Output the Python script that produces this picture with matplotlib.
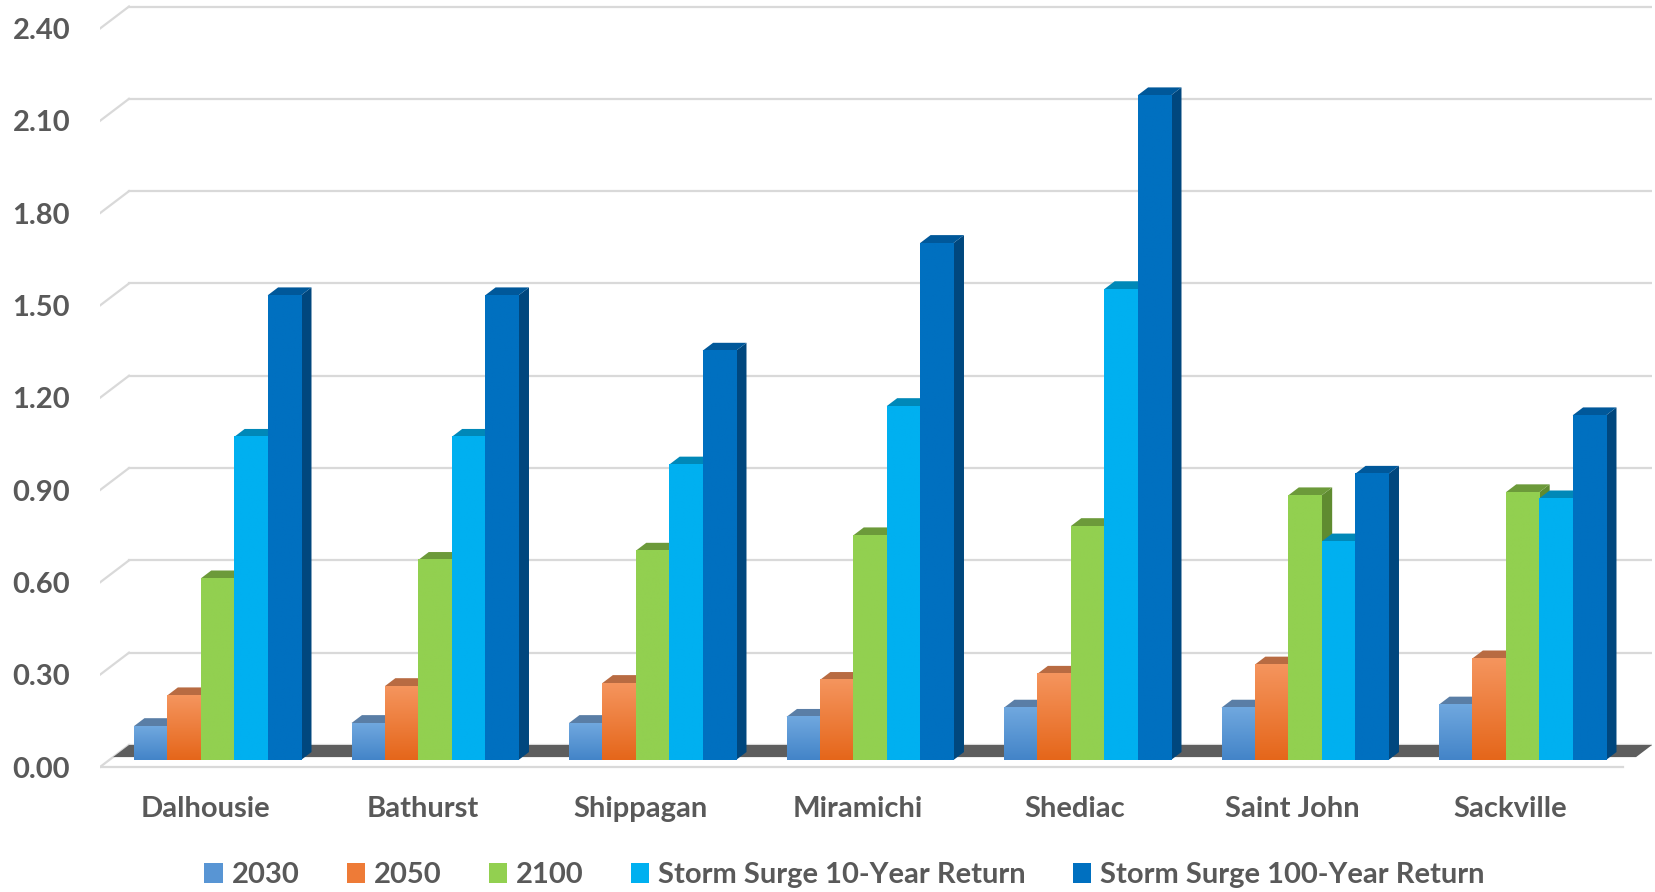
import numpy as np
import matplotlib
matplotlib.use("Agg")
import matplotlib.pyplot as plt
from matplotlib.patches import Polygon, Patch
from matplotlib.colors import LinearSegmentedColormap

# Projected sea level rise / storm surge (m) per community
sites = ["Dalhousie", "Bathurst", "Shippagan", "Miramichi", "Shediac", "Saint John", "Sackville"]
series_names = ["2030", "2050", "2100", "Storm Surge 10-Year Return", "Storm Surge 100-Year Return"]
rise_2030 = [0.11, 0.12, 0.12, 0.14, 0.17, 0.17, 0.18]
rise_2050 = [0.21, 0.24, 0.25, 0.26, 0.28, 0.31, 0.33]
rise_2100 = [0.59, 0.65, 0.68, 0.73, 0.76, 0.86, 0.87]
surge_10yr = [1.05, 1.05, 0.96, 1.15, 1.53, 0.71, 0.85]
surge_100yr = [1.51, 1.51, 1.33, 1.68, 2.16, 0.93, 1.12]
y_ticks = [0.0, 0.3, 0.6, 0.9, 1.2, 1.5, 1.8, 2.1, 2.4]

# (top colour, bottom colour, top face, side face)
styles = [
    ("#70A8DF", "#4384C8", "#5A7EA6", "#3F6C9C"),
    ("#F5955E", "#E5661A", "#B86B42", "#A85A2E"),
    ("#92D050", "#92D050", "#6C9A3A", "#5F8B30"),
    ("#00B0F0", "#00B0F0", "#0088B8", "#007FB0"),
    ("#0070C0", "#0070C0", "#00589A", "#00477E"),
]
legend_colors = ["#5895D4", "#EE7B37", "#92D050", "#00B0F0", "#0070C0"]
TEXT = "#595959"
GRID = "#D9D9D9"
FS = 21

plt.rcParams["font.family"] = ["Lato", "DejaVu Sans"]
plt.rcParams["font.weight"] = "bold"

# pixel geometry of the faux-3D box
W, H = 1656, 892
PX_CAT, PX_UNIT = 217.5, 307.7
X0_PX, Y0_PX = 205, 767          # category 0 / value 0 on the front plane
DX = 29 / PX_CAT                 # depth vector (front -> back wall)
DY = 22 / PX_UNIT
x_lo, x_hi = (100 - X0_PX) / PX_CAT, (1652 - X0_PX) / PX_CAT
y_lo, y_hi = -0.045, 2.49

fig = plt.figure(figsize=(W / 100, H / 100), dpi=100)
ax_bottom = (H - Y0_PX) + y_lo * PX_UNIT
ax = fig.add_axes([100 / W, ax_bottom / H, (1652 - 100) / W, (y_hi - y_lo) * PX_UNIT / H])

# back wall gridlines + left wall diagonals
for v in y_ticks:
    ax.plot([x_lo, x_lo + DX], [v, v + DY], color=GRID, lw=1.6, zorder=1)
    ax.plot([x_lo + DX, x_hi], [v + DY, v + DY], color=GRID, lw=1.6, zorder=1)
ax.plot([x_lo, x_hi - DX], [0, 0], color=GRID, lw=1.6, zorder=1)

# floor slab
t_floor = 0.45
floor = Polygon([(x_lo + t_floor * DX, t_floor * DY), (x_hi - DX + t_floor * DX, t_floor * DY),
                 (x_hi, DY), (x_lo + DX, DY)], closed=True, fc="#5E5E5E", ec="none", zorder=2)
ax.add_patch(floor)

# columns
t0, t1 = 0.32, 0.68
bw = 0.1536
shift = 0.0576
ddx, ddy = (t1 - t0) * DX, (t1 - t0) * DY
yb = t0 * DY
data = [rise_2030, rise_2050, rise_2100, surge_10yr, surge_100yr]
grad = np.linspace(0, 1, 256).reshape(-1, 1)

for i in range(len(sites)):
    for j, vals in enumerate(data):
        v = vals[i]
        c_top, c_bot, c_cap, c_side = styles[j]
        xl = i + shift + (j - 2.5) * bw
        xr = xl + bw
        side = Polygon([(xr, yb), (xr, yb + v), (xr + ddx, yb + v + ddy), (xr + ddx, yb + ddy)],
                       closed=True, fc=c_side, ec="none", zorder=3)
        ax.add_patch(side)
        cap = Polygon([(xl, yb + v), (xr, yb + v), (xr + ddx, yb + v + ddy), (xl + ddx, yb + v + ddy)],
                      closed=True, fc=c_cap, ec="none", zorder=3)
        ax.add_patch(cap)
        cmap = LinearSegmentedColormap.from_list(f"g{j}", [c_bot, c_top])
        ax.imshow(grad, extent=(xl, xr, yb, yb + v), origin="lower", cmap=cmap,
                  aspect="auto", interpolation="bilinear", zorder=3)

ax.set_xlim(x_lo, x_hi)
ax.set_ylim(y_lo, y_hi)
for s in ax.spines.values():
    s.set_visible(False)

ax.set_yticks(y_ticks, labels=[f"{v:.2f}" for v in y_ticks])
ax.set_xticks(range(len(sites)), labels=sites)
ax.tick_params(axis="y", length=0, pad=21.5, labelsize=FS, labelcolor=TEXT)
ax.tick_params(axis="x", length=0, pad=11, labelsize=FS, labelcolor=TEXT)

handles = [Patch(facecolor=c, edgecolor="none") for c in legend_colors]
fig.legend(handles, series_names, loc="center", bbox_to_anchor=(0.51, 0.019), ncol=5,
           frameon=False, fontsize=FS, labelcolor=TEXT, handlelength=0.65, handleheight=0.65,
           handletextpad=0.3, columnspacing=1.6)

fig.savefig("out.png", dpi=100)
